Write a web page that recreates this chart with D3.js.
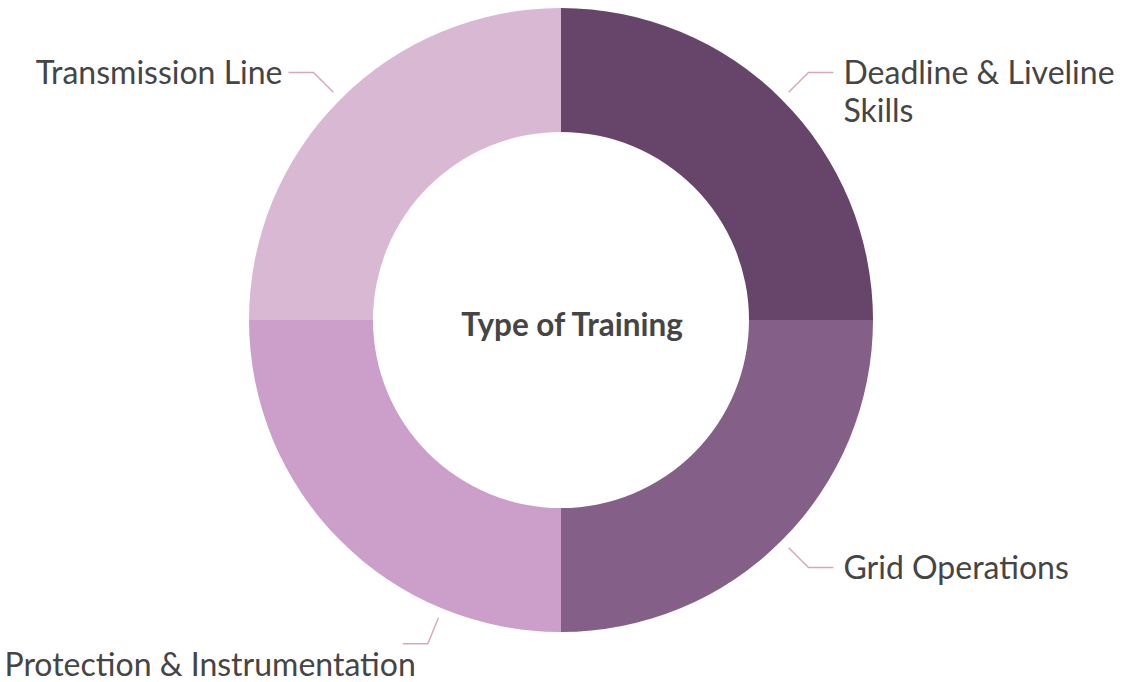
<!DOCTYPE html>
<html>
<head>
<meta charset="utf-8">
<script src="https://cdn.jsdelivr.net/npm/d3@7"></script>
<style>
  body { margin: 0; background: #fff; }
  svg { display: block; font-family: Lato, 'Open Sans', sans-serif; }
</style>
</head>
<body>
<div class="svg-container"></div>
<script>
const w = 1128;
const h = 682;

// data
const categories = ['Deadline & Liveline Skills', 'Grid Operations', 'Protection & Instrumentation', 'Transmission Line'];
const labelLines = [['Deadline & Liveline', 'Skills'], ['Grid Operations'], ['Protection & Instrumentation'], ['Transmission Line']];
const values = [25, 25, 25, 25];
const colors = ['#674469', '#845f88', '#cb9fca', '#d8b8d3'];
const centerTitle = 'Type of Training';

const cx = 561;
const cy = 320;
const outerR = 312;
const innerR = 188;

const svg = d3
	.select('.svg-container')
	.append('svg')
	.attr('width', w)
	.attr('height', h);

const g = svg.append('g').attr('transform', `translate(${cx}, ${cy})`);

const pie = d3.pie().sort(null).value(d => d.value);
const arcs = pie(categories.map((c, i) => ({name: c, value: values[i], lines: labelLines[i], color: colors[i]})));

const arc = d3.arc().innerRadius(innerR).outerRadius(outerR);

g.selectAll('path.slice')
	.data(arcs)
	.enter()
	.append('path')
	.attr('class', 'slice')
	.attr('d', arc)
	.attr('fill', d => d.data.color);

// labels with leader lines (bottom-left label got nudged, like the original layout did)
const angleShift = [0, 0, -0.395, 0];
const polar = (a, r) => [r * Math.sin(a), -r * Math.cos(a)];

arcs.forEach((d, i) => {
	const a = (d.startAngle + d.endAngle) / 2 + angleShift[i];
	const p1 = polar(a, 322);
	const p2 = polar(a, 350);
	const right = Math.sin(a) > 0;
	const p3 = [p2[0] + (right ? 25 : -25), p2[1]];

	g.append('polyline')
		.attr('points', [p1, p2, p3].map(p => p.join(',')).join(' '))
		.attr('fill', 'none')
		.attr('stroke', '#d6a9b8')
		.attr('stroke-width', 1.5);

	const lines = d.data.lines;
	// bottom label hangs below its line end
	const tx = i === 2 ? p3[0] + 13 : p3[0] + (right ? 10 : -6);
	const ty = i === 2 ? p3[1] + 32 : p3[1] + 11.5;

	const text = g.append('text')
		.attr('x', tx)
		.attr('y', ty)
		.style('text-anchor', right ? 'start' : 'end')
		.style('font-size', '32px')
		.attr('fill', '#454545');

	lines.forEach((l, j) => {
		text.append('tspan')
			.attr('x', tx)
			.attr('dy', j === 0 ? 0 : 38)
			.text(l);
	});
});

// title sits a bit right of centre in the original
g.append('text')
	.attr('x', 11)
	.attr('y', 16)
	.style('text-anchor', 'middle')
	.style('font-size', '31.5px')
	.style('font-weight', 'bold')
	.attr('fill', '#454545')
	.text(centerTitle);
</script>
</body>
</html>
